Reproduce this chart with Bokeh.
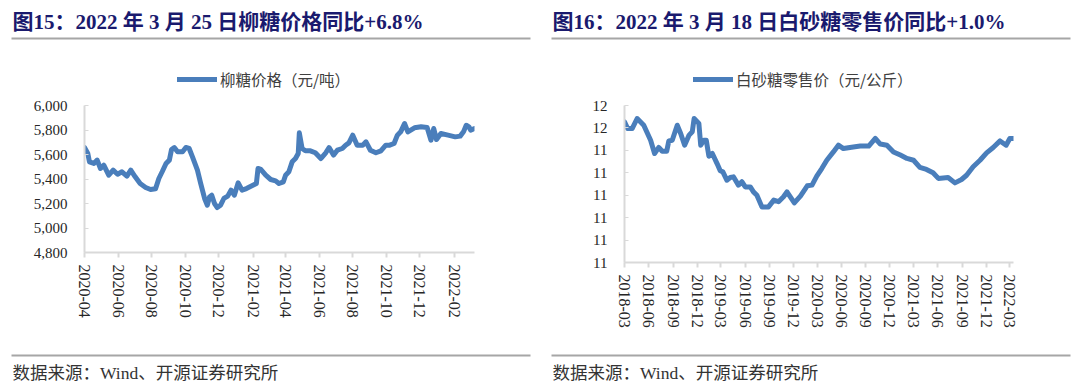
import pandas as pd
from bokeh.plotting import figure
from bokeh.layouts import row, column
from bokeh.models import (Range1d, FixedTicker, DatetimeTickFormatter, NumeralTickFormatter,
                          Legend, LegendItem, ColumnDataSource)
from bokeh.core.properties import value
from bokeh.embed import file_html
from bokeh.resources import INLINE

# ---------------- texts ----------------
LEFT_TITLE = "图15：2022 年 3 月 25 日柳糖价格同比+6.8%"
RIGHT_TITLE = "图16：2022 年 3 月 18 日白砂糖零售价同比+1.0%"
LEFT_SERIES = "柳糖价格（元/吨）"
RIGHT_SERIES = "白砂糖零售价（元/公斤）"
SOURCE = "数据来源：Wind、开源证券研究所"

# ---------------- left chart data ----------------
LIUTANG_DATES = [
    "2020-04-01", "2020-04-07", "2020-04-10", "2020-04-18", "2020-04-24", "2020-04-30", "2020-05-06", "2020-05-15", "2020-05-23", "2020-05-31",
    "2020-06-08", "2020-06-17", "2020-06-24", "2020-07-02", "2020-07-11", "2020-07-21", "2020-07-30", "2020-08-08", "2020-08-14", "2020-08-20",
    "2020-08-27", "2020-09-02", "2020-09-06", "2020-09-11", "2020-09-17", "2020-09-26", "2020-10-02", "2020-10-08", "2020-10-14", "2020-10-23",
    "2020-10-29", "2020-11-05", "2020-11-10", "2020-11-14", "2020-11-18", "2020-11-23", "2020-11-28", "2020-12-04", "2020-12-10", "2020-12-17",
    "2020-12-23", "2020-12-29", "2021-01-05", "2021-01-12", "2021-01-20", "2021-01-29", "2021-02-07", "2021-02-10", "2021-02-15", "2021-02-24",
    "2021-03-05", "2021-03-14", "2021-03-20", "2021-03-28", "2021-04-01", "2021-04-07", "2021-04-13", "2021-04-19", "2021-04-24", "2021-04-26",
    "2021-05-01", "2021-05-07", "2021-05-16", "2021-05-25", "2021-06-04", "2021-06-13", "2021-06-19", "2021-06-27", "2021-07-04", "2021-07-13",
    "2021-07-19", "2021-07-25", "2021-08-01", "2021-08-09", "2021-08-19", "2021-08-25", "2021-09-02", "2021-09-12", "2021-09-21", "2021-09-30",
    "2021-10-07", "2021-10-15", "2021-10-21", "2021-10-27", "2021-11-03", "2021-11-09", "2021-11-21", "2021-12-03", "2021-12-14", "2021-12-21",
    "2021-12-26", "2021-12-31", "2022-01-08", "2022-01-21", "2022-02-03", "2022-02-12", "2022-02-18", "2022-02-23", "2022-02-28", "2022-03-03",
    "2022-03-10",
]
LIUTANG_PRICE = [
    5657, 5608, 5540, 5527, 5554, 5486, 5513, 5431, 5472, 5439,
    5459, 5423, 5472, 5418, 5363, 5331, 5314, 5320, 5404, 5459,
    5527, 5554, 5641, 5657, 5622, 5622, 5657, 5649, 5581, 5472,
    5363, 5241, 5186, 5254, 5268, 5200, 5167, 5186, 5241, 5260,
    5309, 5268, 5369, 5309, 5322, 5342, 5363, 5486, 5478, 5431,
    5396, 5385, 5363, 5377, 5431, 5459, 5540, 5567, 5608, 5777,
    5649, 5630, 5630, 5614, 5567, 5614, 5657, 5595, 5635, 5649,
    5676, 5695, 5758, 5676, 5676, 5703, 5635, 5614, 5630, 5676,
    5676, 5690, 5758, 5785, 5853, 5785, 5818, 5826, 5820, 5717,
    5812, 5722, 5771, 5758, 5744, 5750, 5785, 5839, 5826, 5799,
    5812,
]
LIUTANG_X_TICKS = ["2020-04", "2020-06", "2020-08", "2020-10", "2020-12", "2021-02",
                   "2021-04", "2021-06", "2021-08", "2021-10", "2021-12", "2022-02"]
LIUTANG_Y_TICKS = [4800, 5000, 5200, 5400, 5600, 5800, 6000]

# ---------------- right chart data ----------------
RETAIL_DATES = [
    "2018-03-01", "2018-03-13", "2018-03-30", "2018-04-18", "2018-05-13", "2018-06-08", "2018-06-23", "2018-07-09", "2018-07-22", "2018-08-08",
    "2018-08-16", "2018-08-29", "2018-09-17", "2018-09-30", "2018-10-15", "2018-11-01", "2018-11-13", "2018-11-20", "2018-12-08", "2018-12-15",
    "2018-12-27", "2019-01-05", "2019-01-15", "2019-01-28", "2019-02-15", "2019-02-27", "2019-03-09", "2019-03-24", "2019-04-06", "2019-04-18",
    "2019-05-07", "2019-05-20", "2019-06-02", "2019-06-21", "2019-07-03", "2019-07-16", "2019-08-04", "2019-08-29", "2019-09-18", "2019-10-06",
    "2019-10-25", "2019-11-07", "2019-12-05", "2019-12-28", "2020-01-23", "2020-02-10", "2020-02-28", "2020-03-18", "2020-04-06", "2020-05-01",
    "2020-05-20", "2020-06-08", "2020-07-03", "2020-07-22", "2020-08-11", "2020-09-12", "2020-10-07", "2020-10-26", "2020-11-20", "2020-12-15",
    "2021-01-10", "2021-02-04", "2021-03-01", "2021-03-25", "2021-04-19", "2021-05-14", "2021-06-03", "2021-07-10", "2021-08-05", "2021-08-30",
    "2021-09-18", "2021-10-13", "2021-11-08", "2021-12-03", "2021-12-28", "2022-01-23", "2022-02-15", "2022-03-01", "2022-03-15",
]
RETAIL_PRICE = [
    11.527, 11.497, 11.497, 11.542, 11.512, 11.445, 11.386, 11.413, 11.396, 11.396,
    11.442, 11.445, 11.512, 11.475, 11.423, 11.468, 11.483, 11.542, 11.520, 11.423,
    11.445, 11.445, 11.374, 11.386, 11.341, 11.309, 11.304, 11.267, 11.279, 11.282,
    11.245, 11.260, 11.237, 11.237, 11.215, 11.200, 11.148, 11.148, 11.178, 11.171,
    11.193, 11.215, 11.166, 11.196, 11.242, 11.245, 11.285, 11.319, 11.356, 11.393,
    11.423, 11.408, 11.413, 11.416, 11.419, 11.419, 11.453, 11.428, 11.423, 11.393,
    11.379, 11.364, 11.356, 11.324, 11.315, 11.300, 11.275, 11.279, 11.255, 11.270,
    11.289, 11.327, 11.356, 11.389, 11.413, 11.442, 11.423, 11.453, 11.453,
]
RETAIL_X_TICKS = ["2018-03", "2018-06", "2018-09", "2018-12", "2019-03", "2019-06", "2019-09",
                  "2019-12", "2020-03", "2020-06", "2020-09", "2020-12", "2021-03", "2021-06",
                  "2021-09", "2021-12", "2022-03"]
RETAIL_Y_TICKS = [10.9, 11.0, 11.1, 11.2, 11.3, 11.4, 11.5, 11.6]
RETAIL_Y_LABELS = ["11", "11", "11", "11", "11", "11", "12", "12"]

# ---------------- styles ----------------
BLUE = "#4a7ebb"
AXIS_GRAY = "#d9d9d9"
RULE_GRAY = "#a6a6a6"
TITLE_COLOR = "#1a1a6e"
TEXT_COLOR = "#262626"
SERIF = "Liberation Serif"
MIXED = "Liberation Serif, Noto Sans CJK SC"
CJK = "Noto Sans CJK SC"
PANEL_W = 540
HEAD_H = 95
CHART_H = 250
FOOT_H = 42
LINE_W = 5


def ms(s):
    return pd.Timestamp(s).value / 1e6


def blank_figure(h):
    p = figure(width=PANEL_W, height=h, output_backend="svg", toolbar_location=None,
               x_range=Range1d(0, PANEL_W), y_range=Range1d(h, 0),
               x_axis_location=None, y_axis_location=None, title=None,
               min_border=0, min_border_left=0, min_border_right=0,
               min_border_top=0, min_border_bottom=0, frame_align=False)
    p.outline_line_color = None
    p.grid.visible = False
    p.border_fill_color = "white"
    p.background_fill_color = "white"
    return p


def make_header(title, series, legend_x):
    p = blank_figure(HEAD_H)
    p.text(x=[12], y=[21], text=[title], text_font=value(MIXED), text_font_style="bold",
           text_font_size="21px", text_color=TITLE_COLOR, text_baseline="middle")
    p.segment(x0=[11], x1=[530], y0=[38], y1=[38], line_width=2, line_color=RULE_GRAY)
    proxy = p.line(x=[float("nan")], y=[float("nan")], line_width=LINE_W,
                   line_color=BLUE, line_cap="round")
    legend = Legend(items=[LegendItem(label=series, renderers=[proxy])],
                    location=(legend_x, HEAD_H - 80 - 10), orientation="horizontal",
                    glyph_width=40, glyph_height=20, label_standoff=3,
                    label_text_font=CJK, label_text_font_size="15.5px",
                    label_text_color="#404040", border_line_color=None,
                    background_fill_alpha=0, padding=0, margin=0, spacing=0)
    p.add_layout(legend)
    return p


def make_footer():
    p = blank_figure(FOOT_H)
    p.segment(x0=[11], x1=[530], y0=[10], y1=[10], line_width=2, line_color=RULE_GRAY)
    p.text(x=[12], y=[27], text=[SOURCE], text_font=value(MIXED), text_font_size="17.5px",
           text_color="#333333", text_baseline="middle")
    return p


def make_chart(dates, values, xticks, yticks, ylabels, yfmt, border_right, frame_bottom):
    xs = [ms(d) for d in dates]
    src = ColumnDataSource(dict(x=xs, y=values))
    border_top = 10
    border_bottom = CHART_H - frame_bottom
    p = figure(width=PANEL_W, height=CHART_H, x_axis_type="datetime",
               output_backend="svg", toolbar_location=None, title=None,
               x_range=Range1d(xs[0], xs[-1]),
               y_range=Range1d(min(yticks), max(yticks)),
               min_border_left=84, min_border_right=border_right,
               min_border_top=border_top, min_border_bottom=border_bottom,
               frame_align=False)
    p.outline_line_color = None
    p.grid.visible = False
    p.background_fill_color = "white"
    p.border_fill_color = "white"

    p.line(x="x", y="y", source=src, line_width=LINE_W, line_color=BLUE,
           line_join="round", line_cap="round")

    xa = p.xaxis[0]
    xa.ticker = FixedTicker(ticks=[ms(t + "-01") for t in xticks], minor_ticks=[])
    fmt = "%Y-%m"
    xa.formatter = DatetimeTickFormatter(milliseconds=fmt, seconds=fmt, minsec=fmt, minutes=fmt,
                                         hourmin=fmt, hours=fmt, days=fmt, months=fmt, years=fmt)
    xa.major_label_orientation = "vertical"
    xa.axis_line_color = AXIS_GRAY
    xa.axis_line_width = 2
    xa.major_tick_line_color = AXIS_GRAY
    xa.major_tick_line_width = 2
    xa.major_tick_in = 0
    xa.major_tick_out = 5
    xa.minor_tick_line_color = None
    xa.major_label_standoff = 7
    xa.major_label_text_font = SERIF
    xa.major_label_text_font_size = "16px"
    xa.major_label_text_color = TEXT_COLOR

    ya = p.yaxis[0]
    ya.ticker = FixedTicker(ticks=yticks, minor_ticks=[])
    if ylabels is not None:
        ya.major_label_overrides = {t: l for t, l in zip(yticks, ylabels)}
    else:
        ya.formatter = NumeralTickFormatter(format=yfmt)
    ya.axis_line_color = AXIS_GRAY
    ya.axis_line_width = 2
    ya.major_tick_line_color = AXIS_GRAY
    ya.major_tick_in = 4
    ya.major_tick_out = 0
    ya.minor_tick_line_color = None
    ya.major_label_standoff = 17
    ya.major_label_text_font = SERIF
    ya.major_label_text_font_size = "15px"
    ya.major_label_text_color = TEXT_COLOR
    return p


left = column(
    make_header(LEFT_TITLE, LEFT_SERIES, legend_x=177),
    make_chart(LIUTANG_DATES, LIUTANG_PRICE, LIUTANG_X_TICKS, LIUTANG_Y_TICKS, None, "0,0",
               border_right=66, frame_bottom=252 - HEAD_H),
    make_footer(),
    spacing=0,
)
right = column(
    make_header(RIGHT_TITLE, RIGHT_SERIES, legend_x=153),
    make_chart(RETAIL_DATES, RETAIL_PRICE, RETAIL_X_TICKS, RETAIL_Y_TICKS, RETAIL_Y_LABELS, "0",
               border_right=67, frame_bottom=262 - HEAD_H),
    make_footer(),
    spacing=0,
)

layout = row(left, right, spacing=0)
with open("out.html", "w") as f:
    f.write(file_html(layout, INLINE))
